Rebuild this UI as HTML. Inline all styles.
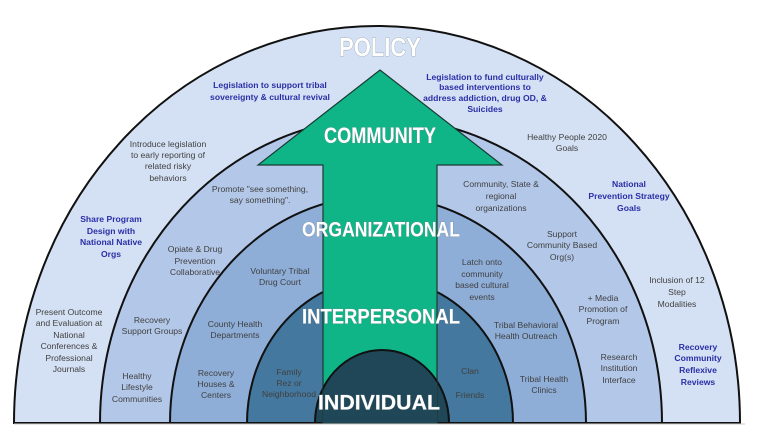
<!DOCTYPE html>
<html><head><meta charset="utf-8"><style>
html,body{margin:0;padding:0;background:#fff;width:768px;height:432px;overflow:hidden}
svg{display:block}
.t{font-family:"Liberation Sans",sans-serif;font-size:8.6px;fill:#404040;text-anchor:middle;dominant-baseline:middle}
.b{font-family:"Liberation Sans",sans-serif;font-size:8.6px;fill:#2a2ea6;font-weight:bold;text-anchor:middle;dominant-baseline:middle}
.h{font-family:"Liberation Sans",sans-serif;font-weight:bold;fill:#fff;text-anchor:middle;dominant-baseline:middle;stroke:#7a8a90;stroke-width:0.6;paint-order:stroke}
</style></head><body>
<svg width="768" height="432" viewBox="0 0 768 432" xmlns="http://www.w3.org/2000/svg">
<rect width="768" height="432" fill="#fff"/>
<g stroke="#111" stroke-width="2">
<path d="M14,423 A363,397 0 0 1 740,423 Z" fill="#d4e1f4"/>
<path d="M100,423 A281,305 0 0 1 662,423 Z" fill="#b3c8e9"/>
<path d="M170,423 A208,227 0 0 1 586,423 Z" fill="#8eaed8"/>
<path d="M247,423 A133,145 0 0 1 513,423 Z" fill="#44789e"/>
<path d="M315,423 A67,73 0 0 1 449,423 Z" fill="#1f4757"/>
</g>
<path d="M380,70 L502,165 L437,165 L437,423 L323,423 L323,165 L258,165 Z" fill="#0fb487" stroke="#1a3a30" stroke-width="1.2"/>
<clipPath id="c"><rect x="323" y="340" width="114" height="90"/></clipPath>
<path d="M315,423 A67,73 0 0 1 449,423" fill="#1f4757" stroke="#111" stroke-width="2" clip-path="url(#c)"/>
<line x1="14" y1="424" x2="745" y2="424" stroke="#ccc" stroke-width="1"/>
<text class="h" x="380" y="49" font-size="26" fill="#f4f4f4" stroke-width="1.2" textLength="82" lengthAdjust="spacingAndGlyphs">POLICY</text>
<text class="h" x="380" y="137" font-size="22" textLength="112" lengthAdjust="spacingAndGlyphs">COMMUNITY</text>
<text class="h" x="381" y="231" font-size="21" textLength="158" lengthAdjust="spacingAndGlyphs">ORGANIZATIONAL</text>
<text class="h" x="381" y="318" font-size="21" textLength="158" lengthAdjust="spacingAndGlyphs">INTERPERSONAL</text>
<text class="h" x="379" y="404" font-size="21" textLength="122" lengthAdjust="spacingAndGlyphs">INDIVIDUAL</text>

<text class="b"><tspan x="270" y="86">Legislation to support  tribal</tspan><tspan x="270" y="98">sovereignty &amp; cultural revival</tspan></text>
<text class="b"><tspan x="485" y="78">Legislation to fund culturally</tspan><tspan x="485" y="88">based  interventions to</tspan><tspan x="485" y="99">address addiction, drug OD, &amp;</tspan><tspan x="485" y="110">Suicides</tspan></text>
<text class="t"><tspan x="168" y="145">Introduce legislation</tspan><tspan x="168" y="156">to early reporting of</tspan><tspan x="168" y="167">related risky</tspan><tspan x="168" y="179">behaviors</tspan></text>
<text class="t"><tspan x="567" y="138">Healthy People 2020</tspan><tspan x="567" y="149">Goals</tspan></text>
<text class="t"><tspan x="260" y="190">Promote  "see something,</tspan><tspan x="260" y="201">say something".</tspan></text>
<text class="t"><tspan x="501" y="185">Community, State &amp;</tspan><tspan x="501" y="197">regional</tspan><tspan x="501" y="209">organizations</tspan></text>
<text class="b"><tspan x="629" y="185">National</tspan><tspan x="629" y="197">Prevention Strategy</tspan><tspan x="629" y="209">Goals</tspan></text>
<text class="b"><tspan x="111" y="220">Share Program</tspan><tspan x="111" y="232">Design with</tspan><tspan x="111" y="243">National Native</tspan><tspan x="111" y="255">Orgs</tspan></text>
<text class="t"><tspan x="195" y="250">Opiate &amp; Drug</tspan><tspan x="195" y="262">Prevention</tspan><tspan x="195" y="273">Collaborative</tspan></text>
<text class="t"><tspan x="280" y="272">Voluntary Tribal</tspan><tspan x="280" y="283">Drug Court</tspan></text>
<text class="t"><tspan x="562" y="235">Support</tspan><tspan x="562" y="246">Community Based</tspan><tspan x="562" y="258">Org(s)</tspan></text>
<text class="t"><tspan x="482" y="263">Latch onto</tspan><tspan x="482" y="275">community</tspan><tspan x="482" y="286">based cultural</tspan><tspan x="482" y="298">events</tspan></text>
<text class="t"><tspan x="677" y="281">Inclusion of  12</tspan><tspan x="677" y="293">Step</tspan><tspan x="677" y="305">Modalities</tspan></text>
<text class="t"><tspan x="69" y="313">Present Outcome</tspan><tspan x="69" y="324">and  Evaluation at</tspan><tspan x="69" y="336">National</tspan><tspan x="69" y="347">Conferences &amp;</tspan><tspan x="69" y="359">Professional</tspan><tspan x="69" y="370">Journals</tspan></text>
<text class="t"><tspan x="152" y="321">Recovery</tspan><tspan x="152" y="332">Support  Groups</tspan></text>
<text class="t"><tspan x="235" y="325">County Health</tspan><tspan x="235" y="336">Departments</tspan></text>
<text class="t"><tspan x="603" y="299">+ Media</tspan><tspan x="603" y="310">Promotion  of</tspan><tspan x="603" y="322">Program</tspan></text>
<text class="t"><tspan x="526" y="326">Tribal Behavioral</tspan><tspan x="526" y="337">Health Outreach</tspan></text>
<text class="t"><tspan x="619" y="358">Research</tspan><tspan x="619" y="369">Institution</tspan><tspan x="619" y="381">Interface</tspan></text>
<text class="b"><tspan x="698" y="348">Recovery</tspan><tspan x="698" y="359">Community</tspan><tspan x="698" y="371">Reflexive</tspan><tspan x="698" y="383">Reviews</tspan></text>
<text class="t"><tspan x="137" y="377">Healthy</tspan><tspan x="137" y="388">Lifestyle</tspan><tspan x="137" y="400">Communities</tspan></text>
<text class="t"><tspan x="216" y="374">Recovery</tspan><tspan x="216" y="385">Houses &amp;</tspan><tspan x="216" y="396">Centers</tspan></text>
<text class="t" fill="#1d2a33"><tspan x="289" y="373">Family</tspan><tspan x="289" y="384">Rez or</tspan><tspan x="289" y="395">Neighborhood</tspan></text>
<text class="t" fill="#1d2a33"><tspan x="470" y="372">Clan</tspan><tspan x="470" y="396">Friends</tspan></text>
<text class="t"><tspan x="544" y="380">Tribal Health</tspan><tspan x="544" y="391">Clinics</tspan></text>
</svg>
</body></html>
